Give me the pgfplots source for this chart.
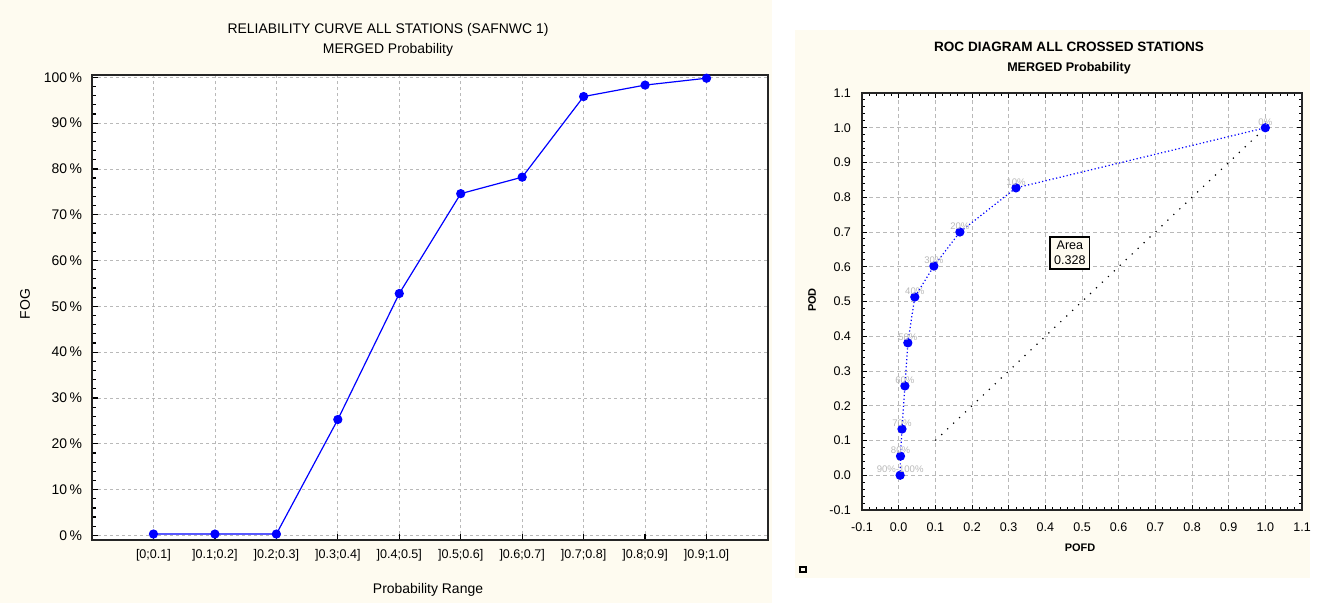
\documentclass[border=0pt]{standalone}
\usepackage{fontspec}
\setmainfont{Liberation Sans}
\usepackage{pgfplots}
\pgfplotsset{compat=1.18}
\definecolor{cream}{RGB}{254,251,240}
\definecolor{pblue}{RGB}{0,0,255}
\begin{document}
\begin{tikzpicture}
\path[use as bounding box] (0,0) rectangle (662.5bp,-301.5bp);
\fill[cream] (0,0) rectangle (386bp,-301.5bp);
\fill[cream] (397.5bp,-15bp) rectangle (655bp,-289bp);
\begin{axis}[
  scale only axis, width=338bp, height=232.5bp,
  at={(46bp,-270bp)}, anchor=south west,
  xmin=-1, xmax=10, ymin=-1, ymax=100.5,
  axis background/.style={fill=white},
  axis line style={line width=1bp, black!85},
  xtick={0,...,9},
  xticklabels={{[0;0.1]},{]0.1;0.2]},{]0.2;0.3]},{]0.3;0.4]},{]0.4;0.5]},{]0.5;0.6]},{]0.6;0.7]},{]0.7;0.8]},{]0.8;0.9]},{]0.9;1.0]}},
  ytick={0,10,...,100}, minor y tick num=4,
  yticklabel={\pgfmathprintnumber{\tick}\,\%},
  /pgf/number format/assume math mode=true,
  grid=major,
  major grid style={gray!55, dash pattern=on 1.5bp off 1.5bp, line width=0.4bp},
  tick align=inside, xtick pos=bottom, ytick pos=left,
  major tick length=3bp, minor tick length=2bp,
  tick style={black, line width=0.6bp},
  x tick label style={font=\fontsize{6.3}{7}\selectfont, yshift=-1bp},
  y tick label style={font=\fontsize{7}{8}\selectfont, xshift=-1.5bp},
]
\addplot[pblue, line width=0.6bp, mark=*, mark size=2bp, mark options={fill=pblue, draw=pblue}]
coordinates {(0,0.3) (1,0.3) (2,0.3) (3,25.3) (4,52.8) (5,74.6) (6,78.2) (7,95.8) (8,98.3) (9,99.8)};
\end{axis}
\node[font=\fontsize{7}{8}\selectfont] at (194bp,-15bp) {RELIABILITY CURVE ALL STATIONS (SAFNWC 1)};
\node[font=\fontsize{7}{8}\selectfont] at (194bp,-25bp) {MERGED Probability};
\node[font=\fontsize{7}{8}\selectfont, rotate=90] at (12.5bp,-152bp) {FOG};
\node[font=\fontsize{7}{8}\selectfont] at (214bp,-295bp) {Probability Range};

\begin{axis}[
  scale only axis, width=220bp, height=208.5bp,
  at={(431bp,-255bp)}, anchor=south west,
  xmin=-0.1, xmax=1.1, ymin=-0.1, ymax=1.1,
  axis background/.style={fill=white},
  axis line style={line width=1bp, black!85},
  xtick={-0.1,0,0.1,0.2,0.3,0.4,0.5,0.6,0.7,0.8,0.9,1.0,1.1},
  ytick={-0.1,0,0.1,0.2,0.3,0.4,0.5,0.6,0.7,0.8,0.9,1.0,1.1},
  minor tick num=4,
  /pgf/number format/.cd, fixed, fixed zerofill, precision=1, assume math mode=true,
  /pgfplots/.cd,
  grid=major,
  major grid style={gray!55, dash pattern=on 2bp off 1.5bp, line width=0.4bp},
  tick align=inside,
  major tick length=2.5bp, minor tick length=1.5bp,
  tick style={black, line width=0.5bp},
  x tick label style={font=\fontsize{6.3}{7}\selectfont, yshift=-3bp},
  y tick label style={font=\fontsize{6.3}{7}\selectfont, xshift=-2bp},
]
\addplot[black, line width=0.6bp, dash pattern=on 0.6bp off 3.5bp] coordinates {(0.1,0.1) (1,1)};
\addplot[pblue, line width=0.6bp, dash pattern=on 0.6bp off 1.2bp, mark=*, mark size=2bp,
  mark options={solid, fill=pblue, draw=pblue},
  nodes near coords, point meta=explicit symbolic,
  every node near coord/.append style={font=\fontsize{4.8}{5}\selectfont, text=gray!55, anchor=south, inner sep=1bp}]
coordinates {(0.004,0.0) [90\%-100\%] (0.005,0.055) [80\%] (0.009,0.133) [70\%] (0.017,0.257) [60\%] (0.025,0.381) [50\%] (0.044,0.513) [40\%] (0.096,0.602) [30\%] (0.167,0.70) [20\%] (0.32,0.827) [10\%] (1.0,1.0) [0\%]};
\node[draw, line width=0.8bp, fill=cream, align=center, font=\fontsize{6.3}{7.5}\selectfont, inner sep=2bp] at (axis cs:0.467,0.64) {Area\\0.328};
\end{axis}
\node[font=\bfseries\fontsize{6.8}{7}\selectfont] at (534.5bp,-23.5bp) {ROC DIAGRAM ALL CROSSED STATIONS};
\node[font=\bfseries\fontsize{6.3}{7}\selectfont] at (534.5bp,-34bp) {MERGED Probability};
\node[font=\bfseries\fontsize{5.5}{7}\selectfont, rotate=90] at (406bp,-150bp) {POD};
\node[font=\bfseries\fontsize{5.5}{7}\selectfont] at (540bp,-274bp) {POFD};
\draw[line width=0.8bp] (400bp,-283.5bp) rectangle (403bp,-286bp);
\end{tikzpicture}
\end{document}
